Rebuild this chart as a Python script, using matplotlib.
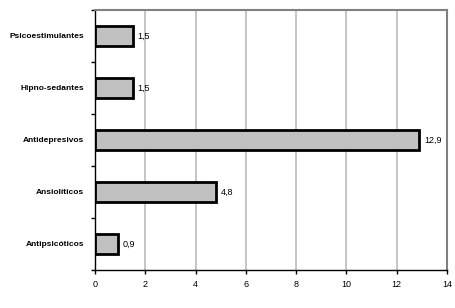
import matplotlib
matplotlib.use("Agg")
import matplotlib.pyplot as plt
from matplotlib.ticker import FixedLocator

categories = ["Antipsicóticos", "Ansiolíticos", "Antidepresivos", "Hipno-sedantes", "Psicoestimulantes"]
values = [0.9, 4.8, 12.9, 1.5, 1.5]
x_ticks = [0, 2, 4, 6, 8, 10, 12, 14]

plt.rcParams["font.family"] = ["Liberation Sans", "DejaVu Sans"]

fig = plt.figure(figsize=(4.55, 3.08), dpi=100)
W, H = 455, 308
ax = fig.add_axes([95 / W, 1 - 270 / H, (447 - 95) / W, (270 - 10) / H])

ypos = list(range(len(categories)))
ax.barh(ypos, values, height=0.4, color="#c0c0c0", edgecolor="black", linewidth=2, zorder=3)

for y, v in zip(ypos, values):
    ax.text(v + 0.2, y, f"{v:.1f}".replace(".", ","), va="center", ha="left",
            fontsize=6.5, color="black")

ax.set_xlim(0, 14)
ax.set_ylim(-0.5, len(categories) - 0.5)
ax.xaxis.set_major_locator(FixedLocator(x_ticks))
ax.set_xticklabels([str(t) for t in x_ticks], fontsize=6.5)

# category labels at bar centres, tick marks at category boundaries
ax.yaxis.set_major_locator(FixedLocator([i - 0.5 for i in range(len(categories) + 1)]))
ax.yaxis.set_minor_locator(FixedLocator(ypos))
ax.set_yticklabels([])
ax.set_yticklabels(categories, minor=True, fontsize=6, fontweight="bold")
ax.tick_params(axis="y", which="major", length=3, width=1, direction="out")
ax.tick_params(axis="y", which="minor", length=0, pad=8)
ax.tick_params(axis="x", which="major", length=3, width=1, direction="out", pad=4)

ax.grid(axis="x", color="#c0c0c0", linewidth=1.3, zorder=0)
ax.set_axisbelow(True)

for side in ("top", "right"):
    ax.spines[side].set_color("#808080")
    ax.spines[side].set_linewidth(1.5)
for side in ("left", "bottom"):
    ax.spines[side].set_color("black")
    ax.spines[side].set_linewidth(1)

fig.savefig("out.png", dpi=100)
